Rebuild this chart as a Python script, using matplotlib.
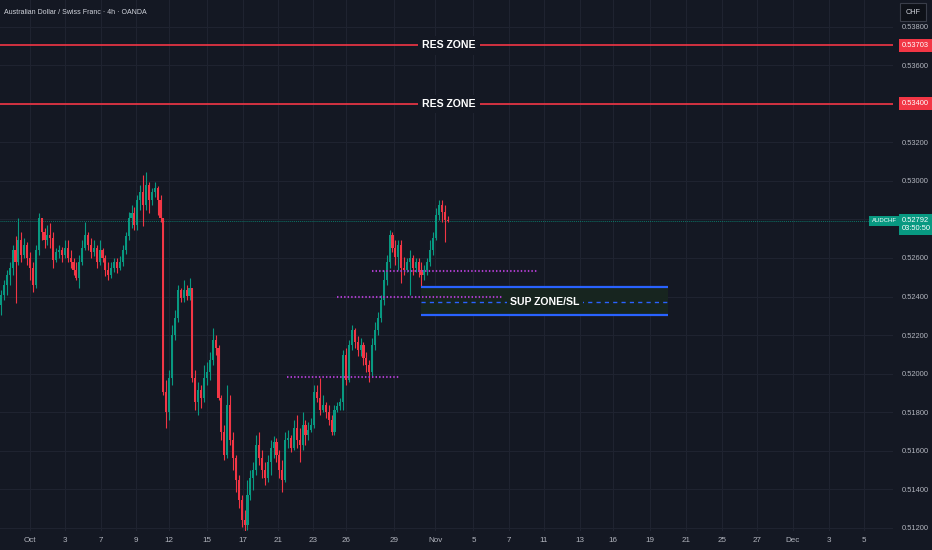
import numpy as np
import matplotlib
matplotlib.use("Agg")
import matplotlib.pyplot as plt
from matplotlib.transforms import blended_transform_factory

# colours (TradingView dark theme)
BG = "#141823"
GRID = "#1f2330"
GREEN = "#089981"
RED = "#f23645"
BLUE = "#2962ff"
MAGENTA = "#a93cc9"
TXT = "#b2b5be"
ZONE = "#17251f"
FONT = ["Liberation Sans", "DejaVu Sans"]

# AUDCHF 4h candles (open = previous close)
first_open = 0.52356
closes = [
    0.52408, 0.52460, 0.52512, 0.52548, 0.52642, 0.52580, 0.52693, 0.52616, 0.52667, 0.52600,
    0.52548, 0.52460, 0.52642, 0.52807, 0.52735, 0.52693, 0.52719, 0.52703, 0.52590, 0.52632,
    0.52642, 0.52616, 0.52651, 0.52600, 0.52580, 0.52538, 0.52496, 0.52580, 0.52651, 0.52719,
    0.52667, 0.52632, 0.52651, 0.52580, 0.52642, 0.52600, 0.52538, 0.52512, 0.52548, 0.52580,
    0.52548, 0.52580, 0.52642, 0.52714, 0.52807, 0.52833, 0.52771, 0.52901, 0.52943, 0.52875,
    0.52979, 0.52901, 0.52943, 0.52963, 0.52901, 0.52807, 0.51905, 0.51801, 0.51977, 0.52200,
    0.52288, 0.52434, 0.52392, 0.52434, 0.52403, 0.52444, 0.51977, 0.51853, 0.51915, 0.51873,
    0.51977, 0.52009, 0.52071, 0.52174, 0.52133, 0.51873, 0.51697, 0.51578, 0.51837, 0.51655,
    0.51562, 0.51448, 0.51344, 0.51240, 0.51214, 0.51370, 0.51458, 0.51500, 0.51629, 0.51562,
    0.51500, 0.51458, 0.51542, 0.51613, 0.51645, 0.51578, 0.51500, 0.51448, 0.51655, 0.51665,
    0.51613, 0.51717, 0.51655, 0.51629, 0.51733, 0.51681, 0.51707, 0.51733, 0.51905, 0.51873,
    0.51811, 0.51837, 0.51801, 0.51759, 0.51697, 0.51811, 0.51832, 0.51853, 0.52097, 0.51967,
    0.52148, 0.52226, 0.52164, 0.52123, 0.52148, 0.52081, 0.52045, 0.52009, 0.52148, 0.52226,
    0.52288, 0.52382, 0.52486, 0.52580, 0.52719, 0.52651, 0.52606, 0.52667, 0.52548, 0.52538,
    0.52580, 0.52600, 0.52548, 0.52580, 0.52538, 0.52512, 0.52538, 0.52580, 0.52642, 0.52703,
    0.52823, 0.52875, 0.52839, 0.52797, 0.52792,
]
highs = [
    0.52434, 0.52486, 0.52538, 0.52580, 0.52667, 0.52714, 0.52807, 0.52735, 0.52703, 0.52683,
    0.52632, 0.52580, 0.52667, 0.52833, 0.52797, 0.52755, 0.52771, 0.52781, 0.52735, 0.52651,
    0.52667, 0.52657, 0.52693, 0.52693, 0.52642, 0.52600, 0.52580, 0.52616, 0.52693, 0.52787,
    0.52735, 0.52703, 0.52693, 0.52667, 0.52693, 0.52651, 0.52616, 0.52580, 0.52580, 0.52600,
    0.52600, 0.52611, 0.52667, 0.52735, 0.52839, 0.52875, 0.52865, 0.52927, 0.52979, 0.53031,
    0.53046, 0.52994, 0.52963, 0.52994, 0.52974, 0.52927, 0.52807, 0.51967, 0.52019, 0.52252,
    0.52330, 0.52460, 0.52444, 0.52486, 0.52460, 0.52496, 0.52444, 0.52019, 0.51957, 0.51941,
    0.52045, 0.52061, 0.52113, 0.52236, 0.52200, 0.52148, 0.51889, 0.51733, 0.51941, 0.51889,
    0.51697, 0.51578, 0.51474, 0.51370, 0.51292, 0.51448, 0.51500, 0.51542, 0.51681, 0.51697,
    0.51604, 0.51542, 0.51578, 0.51655, 0.51676, 0.51665, 0.51604, 0.51552, 0.51697, 0.51707,
    0.51681, 0.51759, 0.51785, 0.51717, 0.51801, 0.51759, 0.51749, 0.51770, 0.51941, 0.51941,
    0.51977, 0.51889, 0.51853, 0.51837, 0.51785, 0.51837, 0.51853, 0.51873, 0.52123, 0.52133,
    0.52174, 0.52252, 0.52236, 0.52195, 0.52185, 0.52164, 0.52113, 0.52071, 0.52185, 0.52268,
    0.52320, 0.52408, 0.52538, 0.52616, 0.52745, 0.52735, 0.52693, 0.52693, 0.52693, 0.52606,
    0.52600, 0.52642, 0.52616, 0.52600, 0.52600, 0.52580, 0.52564, 0.52600, 0.52693, 0.52735,
    0.52859, 0.52901, 0.52901, 0.52875, 0.52818,
]
lows = [
    0.52304, 0.52382, 0.52408, 0.52460, 0.52512, 0.52366, 0.52564, 0.52580, 0.52600, 0.52564,
    0.52486, 0.52424, 0.52444, 0.52616, 0.52693, 0.52651, 0.52667, 0.52651, 0.52548, 0.52580,
    0.52600, 0.52580, 0.52600, 0.52580, 0.52548, 0.52512, 0.52486, 0.52444, 0.52564, 0.52642,
    0.52642, 0.52600, 0.52611, 0.52548, 0.52564, 0.52580, 0.52507, 0.52486, 0.52496, 0.52528,
    0.52522, 0.52538, 0.52559, 0.52621, 0.52693, 0.52755, 0.52745, 0.52745, 0.52849, 0.52766,
    0.52849, 0.52833, 0.52875, 0.52917, 0.52823, 0.52787, 0.51889, 0.51717, 0.51759, 0.51941,
    0.52174, 0.52268, 0.52372, 0.52372, 0.52382, 0.52382, 0.51957, 0.51811, 0.51785, 0.51821,
    0.51853, 0.51941, 0.51967, 0.52045, 0.52097, 0.51863, 0.51655, 0.51552, 0.51562, 0.51629,
    0.51500, 0.51386, 0.51302, 0.51204, 0.51178, 0.51188, 0.51344, 0.51396, 0.51474, 0.51526,
    0.51458, 0.51422, 0.51438, 0.51474, 0.51562, 0.51542, 0.51458, 0.51386, 0.51438, 0.51613,
    0.51594, 0.51604, 0.51613, 0.51542, 0.51604, 0.51629, 0.51655, 0.51697, 0.51717, 0.51853,
    0.51785, 0.51801, 0.51770, 0.51733, 0.51681, 0.51681, 0.51801, 0.51811, 0.51811, 0.51941,
    0.51957, 0.52123, 0.52133, 0.52092, 0.52092, 0.52045, 0.52009, 0.51957, 0.51988, 0.52123,
    0.52200, 0.52268, 0.52356, 0.52460, 0.52548, 0.52632, 0.52564, 0.52538, 0.52470, 0.52512,
    0.52528, 0.52408, 0.52512, 0.52528, 0.52502, 0.52450, 0.52486, 0.52512, 0.52559, 0.52616,
    0.52693, 0.52797, 0.52787, 0.52683, 0.52787,
]

# time axis (bar index of each date label)
date_pos = [10, 22.2, 34.4, 46.6, 57.9, 71.1, 83.4, 95.6, 107.7, 119, 135.5, 149.7,
            162.9, 175.1, 187.2, 199.7, 210.9, 223.9, 236.1, 248.6, 260.8, 273, 285.4, 297.6]
date_labels = ["Oct", "3", "7", "9", "12", "15", "17", "21", "23", "26", "29", "Nov",
               "5", "7", "11", "13", "16", "19", "21", "25", "27", "Dec", "3", "5"]
price_ticks = [0.512, 0.514, 0.516, 0.518, 0.520, 0.522, 0.524, 0.526, 0.528,
               0.530, 0.532, 0.534, 0.536, 0.538]
hidden_ticks = [0.528, 0.534]  # covered by the price boxes

# drawings
res_levels = [0.53703, 0.53400]
sup_top, sup_bottom, sup_mid = 0.52451, 0.52305, 0.52373
sup_x = (144.8, 230)
dotted_levels = [(0.52534, 128, 184.8), (0.52399, 115.9, 172.8), (0.51984, 98.6, 137.6)]

closes = np.array(closes)
highs = np.array(highs)
lows = np.array(lows)
opens = np.r_[first_open, closes[:-1]]
x = np.arange(len(closes))
last = closes[-1]

fig = plt.figure(figsize=(9.32, 5.5), dpi=100)
fig.patch.set_facecolor(BG)
ax = fig.add_axes([0, 19 / 550, 893 / 932, 531 / 550])
ax.set_facecolor(BG)
for s in ax.spines.values():
    s.set_visible(False)

# candles
col = np.where(closes >= opens, GREEN, RED)
ax.vlines(x, np.minimum(lows, np.minimum(opens, closes)),
          np.maximum(highs, np.maximum(opens, closes)), colors=col, lw=0.8, zorder=3)
body = np.maximum(np.abs(closes - opens), 0.00003)
ax.bar(x, body, bottom=np.minimum(opens, closes), width=0.72, color=col, lw=0, zorder=3)

# last price line
ax.axhline(last, color=GREEN, lw=0.7, ls=(0, (1, 1)), alpha=0.7, zorder=2)

# resistance lines
for lvl in res_levels:
    ax.axhline(lvl, color=RED, lw=1.2, zorder=4)
    ax.text(154.5, lvl, "RES ZONE", ha="center", va="center", color="white",
            fontsize=7.6, fontweight="bold", family=FONT, zorder=5,
            bbox=dict(boxstyle="square,pad=0.4", fc=BG, ec="none"))

# support zone
ax.fill_between(sup_x, sup_bottom, sup_top, color=ZONE, lw=0, zorder=1)
ax.hlines([sup_top, sup_bottom], *sup_x, colors=BLUE, lw=1.6, zorder=4)
ax.hlines(sup_mid, *sup_x, colors=BLUE, lw=1.0, linestyles=(0, (3, 3)), zorder=4)
ax.text(187.6, sup_mid, "SUP ZONE/SL", ha="center", va="center", color="white",
        fontsize=7.6, fontweight="bold", family=FONT, zorder=5,
        bbox=dict(boxstyle="square,pad=0.3", fc=ZONE, ec="none"))

# dotted levels
for lvl, x0, x1 in dotted_levels:
    ax.hlines(lvl, x0, x1, colors=MAGENTA, lw=1.5, linestyles=(0, (0.7, 1.0)), zorder=4)

# axes
ax.set_xlim(-0.35, 307.6)
ax.set_ylim(0.51183, 0.53939)
ax.set_xticks(date_pos, date_labels)
ax.yaxis.tick_right()
ax.set_yticks(price_ticks, ["" if t in hidden_ticks else f"{t:.5f}" for t in price_ticks])
ax.tick_params(axis="both", length=0, labelcolor=TXT)
ax.tick_params(axis="y", pad=6.3, labelsize=5.4)
ax.tick_params(axis="x", pad=4.5, labelsize=5.8)
for lab in ax.get_xticklabels() + ax.get_yticklabels():
    lab.set_family(FONT)
ax.grid(True, color=GRID, lw=0.8)
ax.set_axisbelow(True)

# price scale boxes
trans = blended_transform_factory(ax.transAxes, ax.transData)
px_x = 902 / 893
for lvl in res_levels:
    ax.text(px_x, lvl, f"{lvl:.5f}", transform=trans, ha="left", va="center",
            color="white", fontsize=5.4, family=FONT, clip_on=False, zorder=6,
            bbox=dict(boxstyle="square,pad=0.4", fc=RED, ec="none"))
ax.annotate(f"{last:.5f}\n03:50:50", xy=(px_x, last), xycoords=trans,
            xytext=(0, 4), textcoords="offset pixels", ha="left", va="top",
            color="white", fontsize=5.4, family=FONT, linespacing=1.3,
            annotation_clip=False, zorder=6,
            bbox=dict(boxstyle="square,pad=0.4", fc=GREEN, ec="none"))
ax.text(884 / 893, last, "AUDCHF", transform=trans, ha="center", va="center",
        color="white", fontsize=4.3, family=FONT, clip_on=False, zorder=6,
        bbox=dict(boxstyle="square,pad=0.35", fc=GREEN, ec="none"))

# header and currency box
fig.text(4 / 932, 1 - 12 / 550, "Australian Dollar / Swiss Franc · 4h · OANDA",
         color="#d1d4dc", fontsize=5, family=FONT, va="center")
fig.text(913 / 932, 1 - 12 / 550, "CHF", color="#d1d4dc", fontsize=5.2,
         family=FONT, ha="center", va="center",
         bbox=dict(boxstyle="square,pad=0.8", fc="#0e1118", ec="#3a3e4a", lw=0.8))

fig.savefig("out.png", dpi=100, facecolor=BG)
